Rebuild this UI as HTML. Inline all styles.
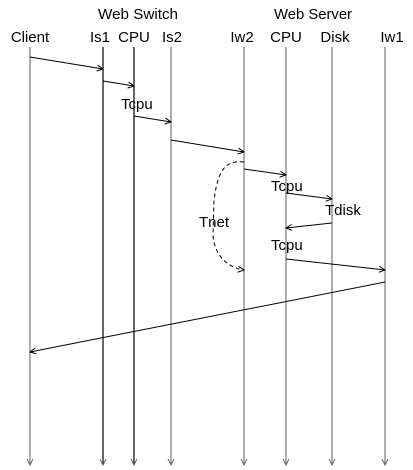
<!DOCTYPE html>
<html><head><style>
html,body{margin:0;padding:0;background:#fff;}
svg{display:block;}
text{font-family:"Liberation Sans",sans-serif;font-size:15px;fill:#000;}
</style></head><body>
<svg width="413" height="470" viewBox="0 0 413 470" xmlns="http://www.w3.org/2000/svg">
<defs>
<marker id="a" markerWidth="8" markerHeight="8" refX="7" refY="4" orient="auto" markerUnits="userSpaceOnUse">
<path d="M1,1 L7,4 L1,7" fill="none" stroke="#000" stroke-width="1"/>
</marker>
<marker id="g" markerWidth="8" markerHeight="8" refX="7" refY="4" orient="auto" markerUnits="userSpaceOnUse">
<path d="M1,1 L7,4 L1,7" fill="none" stroke="#666" stroke-width="1"/>
</marker>
</defs>
<g textLength="0">
<text x="138" y="19" text-anchor="middle" textLength="80" lengthAdjust="spacingAndGlyphs">Web Switch</text>
<text x="313" y="19" text-anchor="middle" textLength="78" lengthAdjust="spacingAndGlyphs">Web Server</text>
</g>
<g text-anchor="middle">
<text x="30" y="42">Client</text>
<text x="100" y="42">Is1</text>
<text x="134" y="42">CPU</text>
<text x="172" y="42">Is2</text>
<text x="242" y="42">Iw2</text>
<text x="286" y="42">CPU</text>
<text x="335" y="42">Disk</text>
<text x="392" y="42">Iw1</text>
</g>
<g stroke="#777" stroke-width="1.2" fill="none" marker-end="url(#g)">
<line x1="30" y1="47" x2="30" y2="465"/>
<line x1="103" y1="47" x2="103" y2="465" stroke="#000"/>
<line x1="134" y1="47" x2="134" y2="465" stroke="#000"/>
<line x1="171" y1="47" x2="171" y2="465"/>
<line x1="244" y1="47" x2="244" y2="465"/>
<line x1="286" y1="47" x2="286" y2="465"/>
<line x1="332" y1="47" x2="332" y2="465"/>
<line x1="385" y1="47" x2="385" y2="465"/>
</g>
<g stroke="#000" stroke-width="1" fill="none" marker-end="url(#a)">
<line x1="30" y1="57" x2="103" y2="69"/>
<line x1="103" y1="81" x2="134" y2="86"/>
<line x1="134" y1="116" x2="171" y2="122"/>
<line x1="171" y1="140" x2="244" y2="152"/>
<line x1="244" y1="169" x2="286" y2="175"/>
<line x1="286" y1="193" x2="332" y2="199"/>
<line x1="332" y1="223" x2="286" y2="228"/>
<line x1="286" y1="259" x2="385" y2="270"/>
<line x1="385" y1="282" x2="30" y2="352"/>
<path d="M244,162 C225,160 218,170 214,200 L213,235 C214,255 228,268 244,270" stroke-dasharray="4,3"/>
</g>
<text x="121" y="109">Tcpu</text>
<text x="271" y="191">Tcpu</text>
<text x="325" y="215">Tdisk</text>
<text x="199" y="227">Tnet</text>
<text x="271" y="250">Tcpu</text>
</svg>
</body></html>
